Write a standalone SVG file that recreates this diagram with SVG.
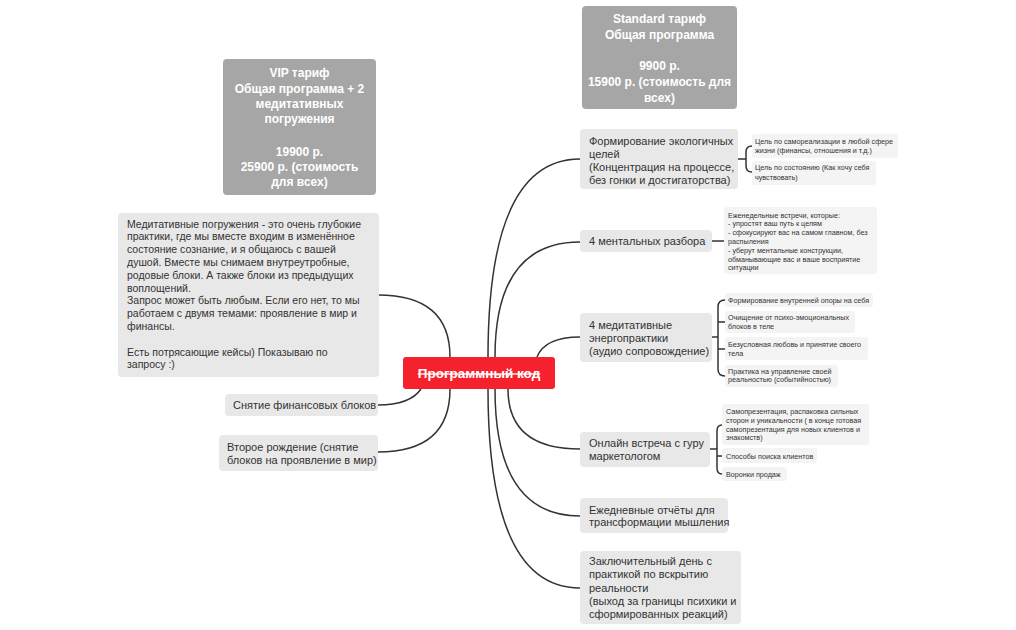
<svg xmlns="http://www.w3.org/2000/svg" width="1016" height="630" viewBox="0 0 1016 630">
<style>
.bg{fill:#ffffff}
.tar{fill:#a6a6a6}
.main{fill:#e8e8e8}
.sub{fill:#f4f4f4}
.root{fill:#f5222d}
.tt{font-family:"Liberation Sans",Arial,sans-serif;font-size:12px;font-weight:bold;fill:#ffffff;text-anchor:middle}
.mt{font-family:"Liberation Sans",Arial,sans-serif;font-size:11px;fill:#333333}
.lt{font-family:"Liberation Sans",Arial,sans-serif;font-size:10.5px;fill:#333333}
.st{font-family:"Liberation Sans",Arial,sans-serif;font-size:7.2px;fill:#333333}
.rt{font-family:"Liberation Sans",Arial,sans-serif;font-size:13.5px;font-weight:bold;fill:#ffffff;text-anchor:middle;text-decoration:line-through}
.c{fill:none;stroke:#333333;stroke-width:1.5}
</style>
<rect class="bg" x="0" y="0" width="1016" height="630"/>
<g id="connectors">
<path class="c" d="M450,357 Q450,295 378,295"/>
<path class="c" d="M421,389 Q410,405 378,405"/>
<path class="c" d="M450,389 Q450,452 378,452"/>
<path class="c" d="M488,357 Q488,159 580,159"/>
<path class="c" d="M495,357 Q495,242 580,242"/>
<path class="c" d="M537,357 Q545,337 580,337"/>
<path class="c" d="M508,389 Q508,449 580,449"/>
<path class="c" d="M495,389 Q495,516 580,516"/>
<path class="c" d="M488,389 Q488,588 580,588"/>
<path class="c" d="M738,159 H746 M752,146 Q746,146 746,152 V166 Q746,172 752,172"/>
<path class="c" d="M712,241 H724"/>
<path class="c" d="M712,337 H718 M725,300 Q718,300 718,307 V369 Q718,376 725,376 M718,322 H725 M718,349 H725"/>
<path class="c" d="M710,449 H717 M722,425 Q717,425 717,431 V468 Q717,474 722,474 M717,456 H722"/>
</g>
<g id="node-root">
<rect class="root" x="403" y="357" width="152" height="32" rx="3"/>
<text class="rt" x="479" y="378">Программный код</text>
</g>
<g id="node-standard">
<rect class="tar" x="582" y="6" width="155" height="103" rx="4"/>
<text class="tt"><tspan x="659.5" y="23">Standard тариф</tspan><tspan x="659.5" y="39">Общая программа</tspan><tspan x="659.5" y="70">9900 р.</tspan><tspan x="659.5" y="86">15900 р. (стоимость для</tspan><tspan x="659.5" y="102">всех)</tspan></text>
</g>
<g id="node-vip">
<rect class="tar" x="223" y="59" width="153" height="136" rx="4"/>
<text class="tt"><tspan x="299.5" y="77">VIP тариф</tspan><tspan x="299.5" y="93">Общая программа + 2</tspan><tspan x="299.5" y="108">медитативных</tspan><tspan x="299.5" y="123">погружения</tspan><tspan x="299.5" y="156">19900 р.</tspan><tspan x="299.5" y="171">25900 р. (стоимость</tspan><tspan x="299.5" y="186">для всех)</tspan></text>
</g>
<g id="node-meditative-info">
<rect class="main" x="118" y="213" width="261" height="164" rx="4"/>
<text class="lt"><tspan x="127" y="227.5">Медитативные погружения - это очень глубокие</tspan><tspan x="127" y="240.3">практики, где мы вместе входим в изменённое</tspan><tspan x="127" y="253.1">состояние сознание, и я общаюсь с вашей</tspan><tspan x="127" y="265.9">душой. Вместе мы снимаем внутреутробные,</tspan><tspan x="127" y="278.7">родовые блоки. А также блоки из предыдущих</tspan><tspan x="127" y="291.5">воплощений.</tspan><tspan x="127" y="304.3">Запрос может быть любым. Если его нет, то мы</tspan><tspan x="127" y="317.1">работаем с двумя темами: проявление в мир и</tspan><tspan x="127" y="329.9">финансы.</tspan><tspan x="127" y="355.5">Есть потрясающие кейсы) Показываю по</tspan><tspan x="127" y="368.3">запросу :)</tspan></text>
</g>
<g id="node-finance">
<rect class="main" x="225" y="394" width="153" height="22" rx="4"/>
<text class="mt" x="233" y="409">Снятие финансовых блоков</text>
</g>
<g id="node-rebirth">
<rect class="main" x="219" y="435" width="159" height="36" rx="4"/>
<text class="mt"><tspan x="227" y="451">Второе рождение (снятие</tspan><tspan x="227" y="463.5">блоков на проявление в мир)</tspan></text>
</g>
<g id="node-goals">
<rect class="main" x="580" y="129" width="158" height="60" rx="4"/>
<text class="mt"><tspan x="589" y="144.5">Формирование экологичных</tspan><tspan x="589" y="157.8">целей</tspan><tspan x="589" y="171.1">(Концентрация на процессе,</tspan><tspan x="589" y="184.4">без гонки и достигаторства)</tspan></text>
</g>
<g id="node-goal-1">
<rect class="sub" x="752" y="134" width="146" height="24" rx="3"/>
<text class="st"><tspan x="755" y="144">Цель по самореализации в любой сфере</tspan><tspan x="755" y="152.7">жизни (финансы, отношения и т.д.)</tspan></text>
</g>
<g id="node-goal-2">
<rect class="sub" x="752" y="161" width="124" height="24" rx="3"/>
<text class="st"><tspan x="755" y="170.2">Цель по состоянию (Как хочу себя</tspan><tspan x="755" y="179.5">чувствовать)</tspan></text>
</g>
<g id="node-mental">
<rect class="main" x="580" y="230" width="132" height="22" rx="4"/>
<text class="mt" x="589" y="245">4 ментальных разбора</text>
</g>
<g id="node-mental-info">
<rect class="sub" x="724" y="207" width="153" height="67" rx="3"/>
<text class="st"><tspan x="728" y="217.5">Еженедельные встречи, которые:</tspan><tspan x="728" y="226.3">- упростят ваш путь к целям</tspan><tspan x="728" y="235.1">- сфокусируют вас на самом главном, без</tspan><tspan x="728" y="243.9">распыления</tspan><tspan x="728" y="252.7">- уберут ментальные конструкции,</tspan><tspan x="728" y="261.5">обманывающие вас и ваше восприятие</tspan><tspan x="728" y="270.3">ситуации</tspan></text>
</g>
<g id="node-energy">
<rect class="main" x="580" y="313" width="132" height="49" rx="4"/>
<text class="mt"><tspan x="589" y="328.5">4 медитативные</tspan><tspan x="589" y="341.8">энергопрактики</tspan><tspan x="589" y="355.1">(аудио сопровождение)</tspan></text>
</g>
<g id="node-energy-1">
<rect class="sub" x="725" y="293" width="148" height="14" rx="3"/>
<text class="st" x="728" y="302.5">Формирование внутренней опоры на себя</text>
</g>
<g id="node-energy-2">
<rect class="sub" x="725" y="311" width="130" height="22" rx="3"/>
<text class="st"><tspan x="728" y="320">Очищение от психо-эмоциональных</tspan><tspan x="728" y="329">блоков в теле</tspan></text>
</g>
<g id="node-energy-3">
<rect class="sub" x="725" y="337" width="143" height="23" rx="3"/>
<text class="st"><tspan x="728" y="346.5">Безусловная любовь и принятие своего</tspan><tspan x="728" y="355.5">тела</tspan></text>
</g>
<g id="node-energy-4">
<rect class="sub" x="725" y="365" width="113" height="22" rx="3"/>
<text class="st"><tspan x="728" y="373.5">Практика на управление своей</tspan><tspan x="728" y="382">реальностью (событийностью)</tspan></text>
</g>
<g id="node-marketing">
<rect class="main" x="580" y="432" width="130" height="35" rx="4"/>
<text class="mt"><tspan x="589" y="447">Онлайн встреча с гуру</tspan><tspan x="589" y="459.5">маркетологом</tspan></text>
</g>
<g id="node-marketing-1">
<rect class="sub" x="722" y="404" width="147" height="41" rx="3"/>
<text class="st"><tspan x="726" y="414">Самопрезентация, распаковка сильных</tspan><tspan x="726" y="422.8">сторон и уникальности ( в конце готовая</tspan><tspan x="726" y="431.6">самопрезентация для новых клиентов и</tspan><tspan x="726" y="440.4">знакомств)</tspan></text>
</g>
<g id="node-marketing-2">
<rect class="sub" x="722" y="448" width="95" height="15" rx="3"/>
<text class="st" x="726" y="458.5">Способы поиска клиентов</text>
</g>
<g id="node-marketing-3">
<rect class="sub" x="722" y="467" width="65" height="14" rx="3"/>
<text class="st" x="726" y="476.5">Воронки продаж</text>
</g>
<g id="node-reports">
<rect class="main" x="580" y="498" width="148" height="35" rx="4"/>
<text class="mt"><tspan x="589" y="513.5">Ежедневные отчёты для</tspan><tspan x="589" y="526">трансформации мышления</tspan></text>
</g>
<g id="node-final">
<rect class="main" x="580" y="551" width="161" height="73" rx="4"/>
<text class="mt"><tspan x="589" y="565">Заключительный день с</tspan><tspan x="589" y="578.3">практикой по вскрытию</tspan><tspan x="589" y="591.6">реальности</tspan><tspan x="589" y="604.9">(выход за границы психики и</tspan><tspan x="589" y="618.2">сформированных реакций)</tspan></text>
</g>
</svg>
